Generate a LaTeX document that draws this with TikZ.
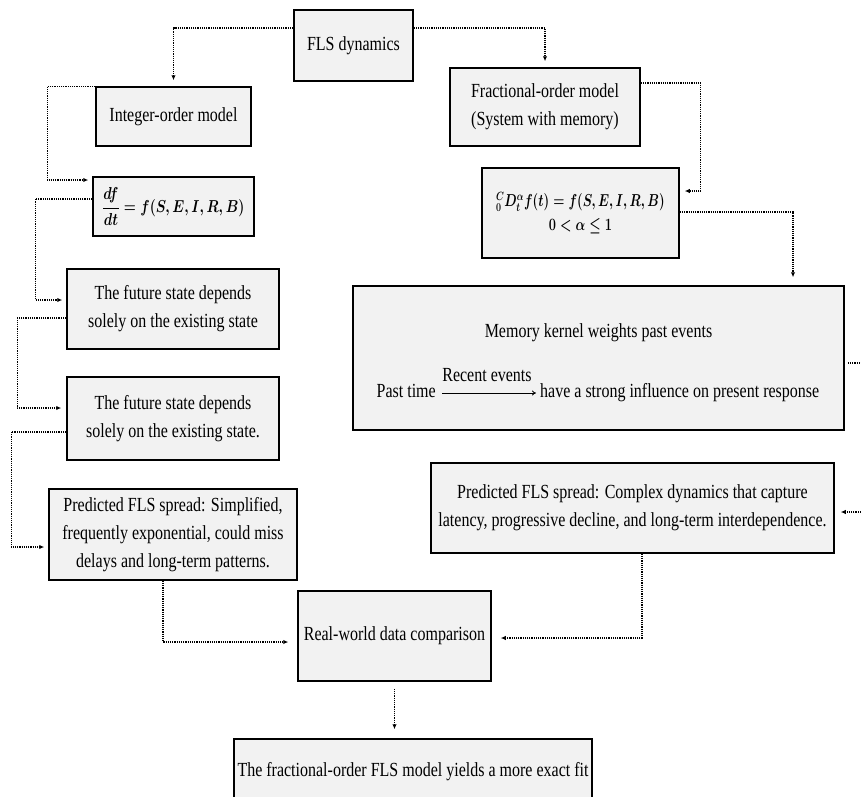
\documentclass[tikz,border=0pt]{standalone}
\usepackage{amsmath}
\usepackage{graphicx}
\usepackage{fontspec}
\setmainfont[FakeStretch=0.8]{Liberation Serif}
\usetikzlibrary{arrows.meta}
\definecolor{boxfill}{RGB}{242,242,242}
\tikzset{
  box/.style={draw=black, line width=1.5pt, fill=boxfill, align=center, inner sep=2pt,
    font=\fontsize{20}{28}\selectfont},
  txt/.style={inner sep=0pt, font=\fontsize{20}{28}\selectfont},
  conn/.style={densely dotted, line width=1.2pt, -{Latex[length=5pt,width=4.5pt]}, shorten >=5pt},
  line/.style={densely dotted, line width=1.2pt},
  thinarrow/.style={line width=0.8pt, -{To[length=4pt,width=5pt]}}
}
\newcommand{\mymath}[2][0.8]{\scalebox{#1}[1]{\fontsize{16.5}{20}\selectfont\boldmath$#2$}}
\begin{document}
\begin{tikzpicture}[x=1pt,y=-1pt]
\useasboundingbox (0,0) rectangle (861,796);
\clip (0,0) rectangle (861,796);
% nodes
\node[box, minimum width=119, minimum height=71] (fls) at (353.5,45.5) {FLS dynamics};
\node[box, minimum width=155, minimum height=59] (intm) at (173.5,116.5) {Integer-order model};
\node[box, minimum width=161, minimum height=59] (dfb) at (173.5,206.5) {\mymath{\dfrac{df}{dt}=f(S,E,I,R,B)}};
\node[box, minimum width=190, minimum height=78] (frac) at (545,107) {Fractional-order model\\(System with memory)};
\node[box, minimum width=197, minimum height=90] (cap) at (580.5,213) {\mymath[0.74]{{}^{C}_{0}D^{\alpha}_{t}f(t)=f(S,E,I,R,B)}\\[-4pt]\mymath[0.74]{0<\alpha\le 1}};
\node[box, minimum width=212, minimum height=80] (fut1) at (173,309) {The future state depends\\solely on the existing state};
\node[box, minimum width=212, minimum height=83] (fut2) at (173,418.5) {The future state depends\\solely on the existing state.};
\node[box, minimum width=248, minimum height=91] (pred1) at (173,534.5) {Predicted FLS spread: Simplified,\\frequently exponential, could miss\\delays and long-term patterns.};
\node[box, minimum width=491, minimum height=144] (mem) at (598.5,358) {};
\node[txt, anchor=base] (memt) at (598.5,337) {Memory kernel weights past events};
\node[txt, anchor=base east] (past) at (436,397) {Past time};
\node[txt, anchor=base west] (have) at (540,397) {have a strong influence on present response};
\coordinate (arrS) at (442,393);
\coordinate (arrE) at (536,393);
\node[txt, anchor=base] (rec) at (487,381) {Recent events};
\node[box, minimum width=403, minimum height=90] (pred2) at (632.5,508) {Predicted FLS spread: Complex dynamics that capture\\latency, progressive decline, and long-term interdependence.};
\node[box, minimum width=193, minimum height=90] (real) at (394.5,636) {Real-world data comparison};
\node[box, minimum width=358, minimum height=66] (fin) at (413,772) {The fractional-order FLS model yields a more exact fit};
\coordinate (edgeA) at (861,363);
\coordinate (edgeB) at (861,512);
% connectors
\draw[thinarrow] (arrS) -- (arrE);
\draw[conn, shorten >=6pt] (fls.west |- 0,28) -| (intm.north);
\draw[conn, shorten >=6pt] (fls.east |- 0,28) -| (frac.north);
\draw[conn, shorten >=4pt] (intm.north west) -- ++(-48,0) |- (dfb.west |- 0,180);
\draw[conn, shorten >=4pt] (dfb.west |- 0,199) -- ++(-57,0) |- (fut1.west |- 0,300);
\draw[conn, shorten >=5pt] (fut1.west |- 0,318) -- ++(-49,0) |- (fut2.west |- 0,408);
\draw[conn, shorten >=4pt] (fut2.west |- 0,432) -- ++(-55,0) |- (pred1.west |- 0,547);
\draw[conn, shorten >=9pt] (pred1.south -| 163,0) |- (real.west |- 0,642);
\draw[conn, shorten >=5pt] (frac.east |- 0,83) -- ++(60,0) |- (cap.east |- 0,191);
\draw[conn, shorten >=8pt] (cap.east |- 0,212) -| (mem.north -| 793,0);
\draw[line, shorten <=3pt] (mem.east |- 0,363) -- (edgeA);
\draw[conn, shorten >=6pt] (edgeB) -- (pred2.east |- 0,512);
\draw[conn, shorten >=9pt] (pred2.south -| 642,0) |- (real.east |- 0,638);
\draw[conn, shorten <=7pt, shorten >=9pt] (real.south) -- (real.south |- fin.north);
\end{tikzpicture}
\end{document}
